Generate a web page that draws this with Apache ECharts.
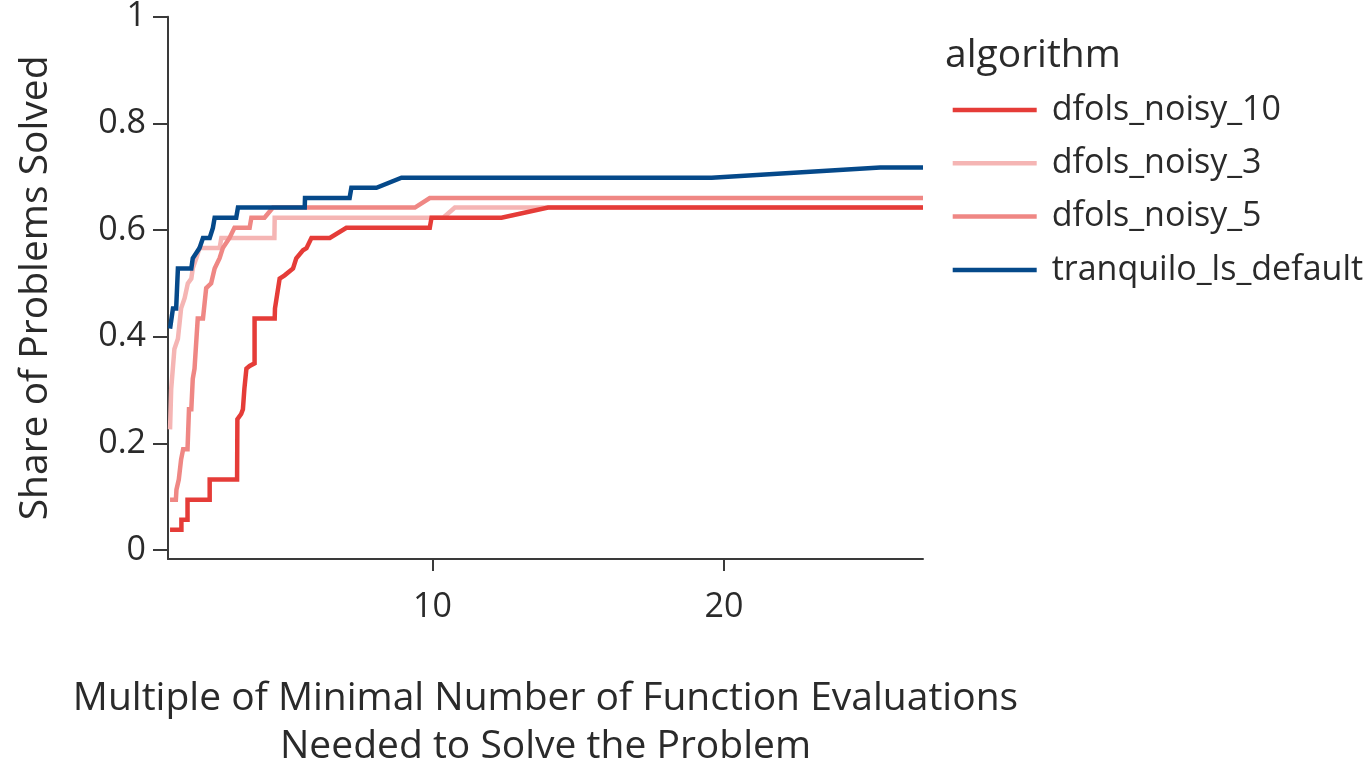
<!DOCTYPE html>
<html>
<head>
<meta charset="utf-8">
<script src="https://cdn.jsdelivr.net/npm/echarts@6/dist/echarts.min.js"></script>
<style>
html,body{margin:0;padding:0;background:#fff;}
#chart{width:1365px;height:767px;}
</style>
</head>
<body>
<div id="chart"></div>
<script>
const seriesNames = ['dfols_noisy_10', 'dfols_noisy_3', 'dfols_noisy_5', 'tranquilo_ls_default'];
const xTicks = [10, 20];
const yTicks = [0, 0.2, 0.4, 0.6, 0.8, 1];

const dfolsNoisy10 = [
  [1.0,0.0377],[1.39,0.0377],[1.39,0.0566],[1.6,0.0566],[1.6,0.0943],[2.36,0.0943],[2.36,0.132],
  [3.3,0.132],[3.31,0.245],[3.44,0.255],[3.5,0.264],[3.55,0.302],[3.62,0.34],[3.73,0.345],[3.9,0.35],
  [3.9,0.434],[4.59,0.434],[4.6,0.453],[4.76,0.509],[4.93,0.515],[5.22,0.528],[5.33,0.547],[5.56,0.562],
  [5.68,0.566],[5.85,0.585],[6.48,0.585],[7.05,0.604],[9.91,0.604],[9.97,0.623],[12.37,0.623],
  [13.97,0.642],[26.83,0.642]
];
const dfolsNoisy3 = [
  [1.0,0.226],[1.04,0.302],[1.15,0.377],[1.27,0.396],[1.38,0.453],[1.5,0.472],[1.61,0.5],[1.73,0.509],
  [1.78,0.528],[1.9,0.547],[2.01,0.566],[2.7,0.566],[2.76,0.585],[4.58,0.585],[4.59,0.623],
  [10.37,0.623],[10.77,0.642],[26.83,0.642]
];
const dfolsNoisy5 = [
  [1.0,0.094],[1.2,0.094],[1.22,0.113],[1.3,0.132],[1.38,0.17],[1.45,0.189],[1.6,0.189],[1.65,0.264],
  [1.73,0.264],[1.78,0.321],[1.84,0.34],[1.95,0.434],[2.13,0.434],[2.24,0.491],[2.41,0.5],[2.53,0.528],
  [2.7,0.547],[2.81,0.566],[3.04,0.585],[3.21,0.604],[3.73,0.604],[3.79,0.623],[4.24,0.623],
  [4.53,0.642],[9.4,0.642],[9.91,0.66],[26.83,0.66]
];
const tranquiloLsDefault = [
  [1.0,0.415],[1.04,0.415],[1.1,0.453],[1.21,0.453],[1.27,0.528],[1.73,0.528],[1.78,0.547],[1.9,0.557],
  [2.01,0.566],[2.13,0.585],[2.36,0.585],[2.47,0.604],[2.53,0.623],[3.27,0.623],[3.33,0.642],
  [5.62,0.642],[5.63,0.66],[7.16,0.66],[7.22,0.679],[8.08,0.679],[8.94,0.698],[19.58,0.698],
  [25.36,0.717],[26.83,0.717]
];

const colors = ['#E53C38', '#F5B5B4', '#EF8784', '#05498A'];
const dataList = [dfolsNoisy10, dfolsNoisy3, dfolsNoisy5, tranquiloLsDefault];
const zList = [3, 2, 4, 5];

const FONT = '"Open Sans", "Noto Sans", sans-serif';
const TXT = '#2a2a2a';
const AX = '#3a3a3a';

const chart = echarts.init(document.getElementById('chart'), null, {renderer: 'canvas'});
chart.setOption({
  animation: false,
  backgroundColor: '#ffffff',
  textStyle: {fontFamily: FONT, color: TXT},
  grid: {left: 168, right: 442, top: 16.7, bottom: 208, containLabel: false, outerBoundsMode: 'none'},
  title: {
    text: 'algorithm', left: 945, top: 36, padding: 0,
    textStyle: {fontFamily: FONT, fontSize: 39, fontWeight: 'normal', color: TXT, lineHeight: 39}
  },
  legend: {
    orient: 'vertical', left: 952.7, top: 93, padding: 0,
    data: seriesNames,
    icon: 'rect', itemWidth: 84, itemHeight: 4.5, itemGap: 19.3,
    textStyle: {fontFamily: FONT, fontSize: 34, color: TXT, lineHeight: 30, padding: [0, 0, 0, 10]}
  },
  xAxis: {
    type: 'value', min: 0.93, max: 26.83,
    name: 'Multiple of Minimal Number of Function Evaluations\nNeeded to Solve the Problem',
    nameLocation: 'middle', nameGap: 116,
    nameTextStyle: {fontFamily: FONT, fontSize: 39, color: TXT, lineHeight: 48},
    axisLine: {show: true, onZero: false, lineStyle: {color: AX, width: 2}},
    axisTick: {show: true, length: 12, lineStyle: {color: AX, width: 2}, customValues: xTicks},
    axisLabel: {fontFamily: FONT, fontSize: 34, color: TXT, margin: 31, customValues: xTicks},
    splitLine: {show: false}
  },
  yAxis: {
    type: 'value', min: -0.017, max: 1,
    name: 'Share of Problems Solved',
    nameLocation: 'middle', nameGap: 113,
    nameTextStyle: {fontFamily: FONT, fontSize: 39, color: TXT},
    axisLine: {show: true, onZero: false, lineStyle: {color: AX, width: 2}},
    axisTick: {show: true, length: 15, lineStyle: {color: AX, width: 2}, customValues: yTicks},
    axisLabel: {fontFamily: FONT, fontSize: 34, color: TXT, margin: 22, customValues: yTicks},
    splitLine: {show: false}
  },
  series: seriesNames.map((name, i) => ({
    name: name,
    type: 'line',
    data: dataList[i],
    showSymbol: false,
    symbol: 'none',
    z: zList[i],
    color: colors[i],
    lineStyle: {color: colors[i], width: 4.5, cap: 'butt', join: 'miter'},
    emphasis: {disabled: true}
  }))
});
</script>
</body>
</html>
